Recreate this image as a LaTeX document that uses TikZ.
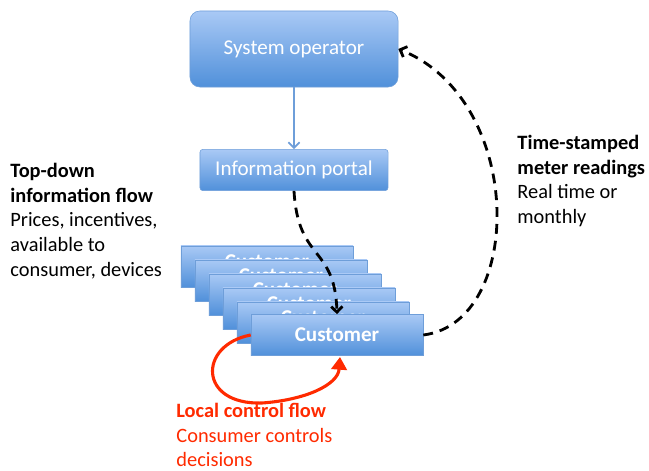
\documentclass[tikz,border=0pt]{standalone}
\usepackage{fontspec}
\setmainfont{Carlito}
\usetikzlibrary{arrows.meta,positioning}

\definecolor{boxtop}{HTML}{A9C9F5}
\definecolor{boxbot}{HTML}{5090DA}
\definecolor{boxline}{HTML}{6E9ED9}
\definecolor{flowred}{HTML}{FF2A00}

\begin{document}
\begin{tikzpicture}[
    x = 0.025cm, y = -0.025cm, % one unit per pixel
    semithick,
    font = \fontsize{14.5}{17.5}\selectfont
    ]

    \tikzset{
    bluebox/.style = {
        draw = boxline,
        thin,
        top color = boxtop,
        bottom color = boxbot,
        text = white,
        inner sep = 0pt,
        font = \fontsize{15}{18}\selectfont
    },
    custbox/.style = {
        bluebox,
        minimum width = 4.3cm,
        minimum height = 1.03cm,
        font = \fontsize{15}{18}\selectfont\bfseries
    },
    datalink/.style = {
        line width = 2pt,
        dash pattern = on 7pt off 5pt,
        -{Straight Barb[length=4pt,width=8pt,line width=2pt]}
    },
    sidetext/.style = {
        align = left,
        anchor = north west,
        inner sep = 0pt
    }
    }

    \useasboundingbox (0,0) rectangle (649,471);

    \node[bluebox, rounded corners = 7pt, minimum width = 5.2cm,
        minimum height = 1.9cm] (op) at (294,49) {System operator};
    \node[bluebox, rounded corners = 2pt, minimum width = 4.7cm,
        minimum height = 1.03cm] (portal) at (294,170) {Information portal};

    % stack of customers, back to front
    \foreach \i in {1,...,5}
        \node[custbox, text depth = 0.24cm] (c\i) at (253+14*\i,252.5+14*\i) {Customer};
    \node[custbox] (cust) at (337,335) {Customer};

    \draw[boxline, line width = 1.2pt,
        -{Straight Barb[length=4pt,width=8pt]}] (op) -- (portal);

    \draw[datalink] (portal.south) .. controls (298,262) and (335,245) .. (cust.north);
    \draw[datalink] (cust.east) .. controls (525,322) and (525,100) .. (op.east);

    \draw[flowred, line width = 2.2pt, -{Triangle[length=9pt,width=11pt]}]
        (cust.west) .. controls (198,345) and (198,405) .. (262,403)
        .. controls (305,400) and (338,385) .. (340,357);

    \node[sidetext] (topdown) at (10,163)
        {\textbf{Top-down}\\\textbf{information flow}\\Prices, incentives,\\available to\\consumer, devices};
    \node[sidetext] (meter) at (517,135)
        {\textbf{Time-stamped}\\\textbf{meter readings}\\Real time or\\monthly};
    \node[sidetext, text = flowred] (local) at (176,403)
        {\textbf{Local control flow}\\Consumer controls\\decisions};
\end{tikzpicture}
\end{document}
